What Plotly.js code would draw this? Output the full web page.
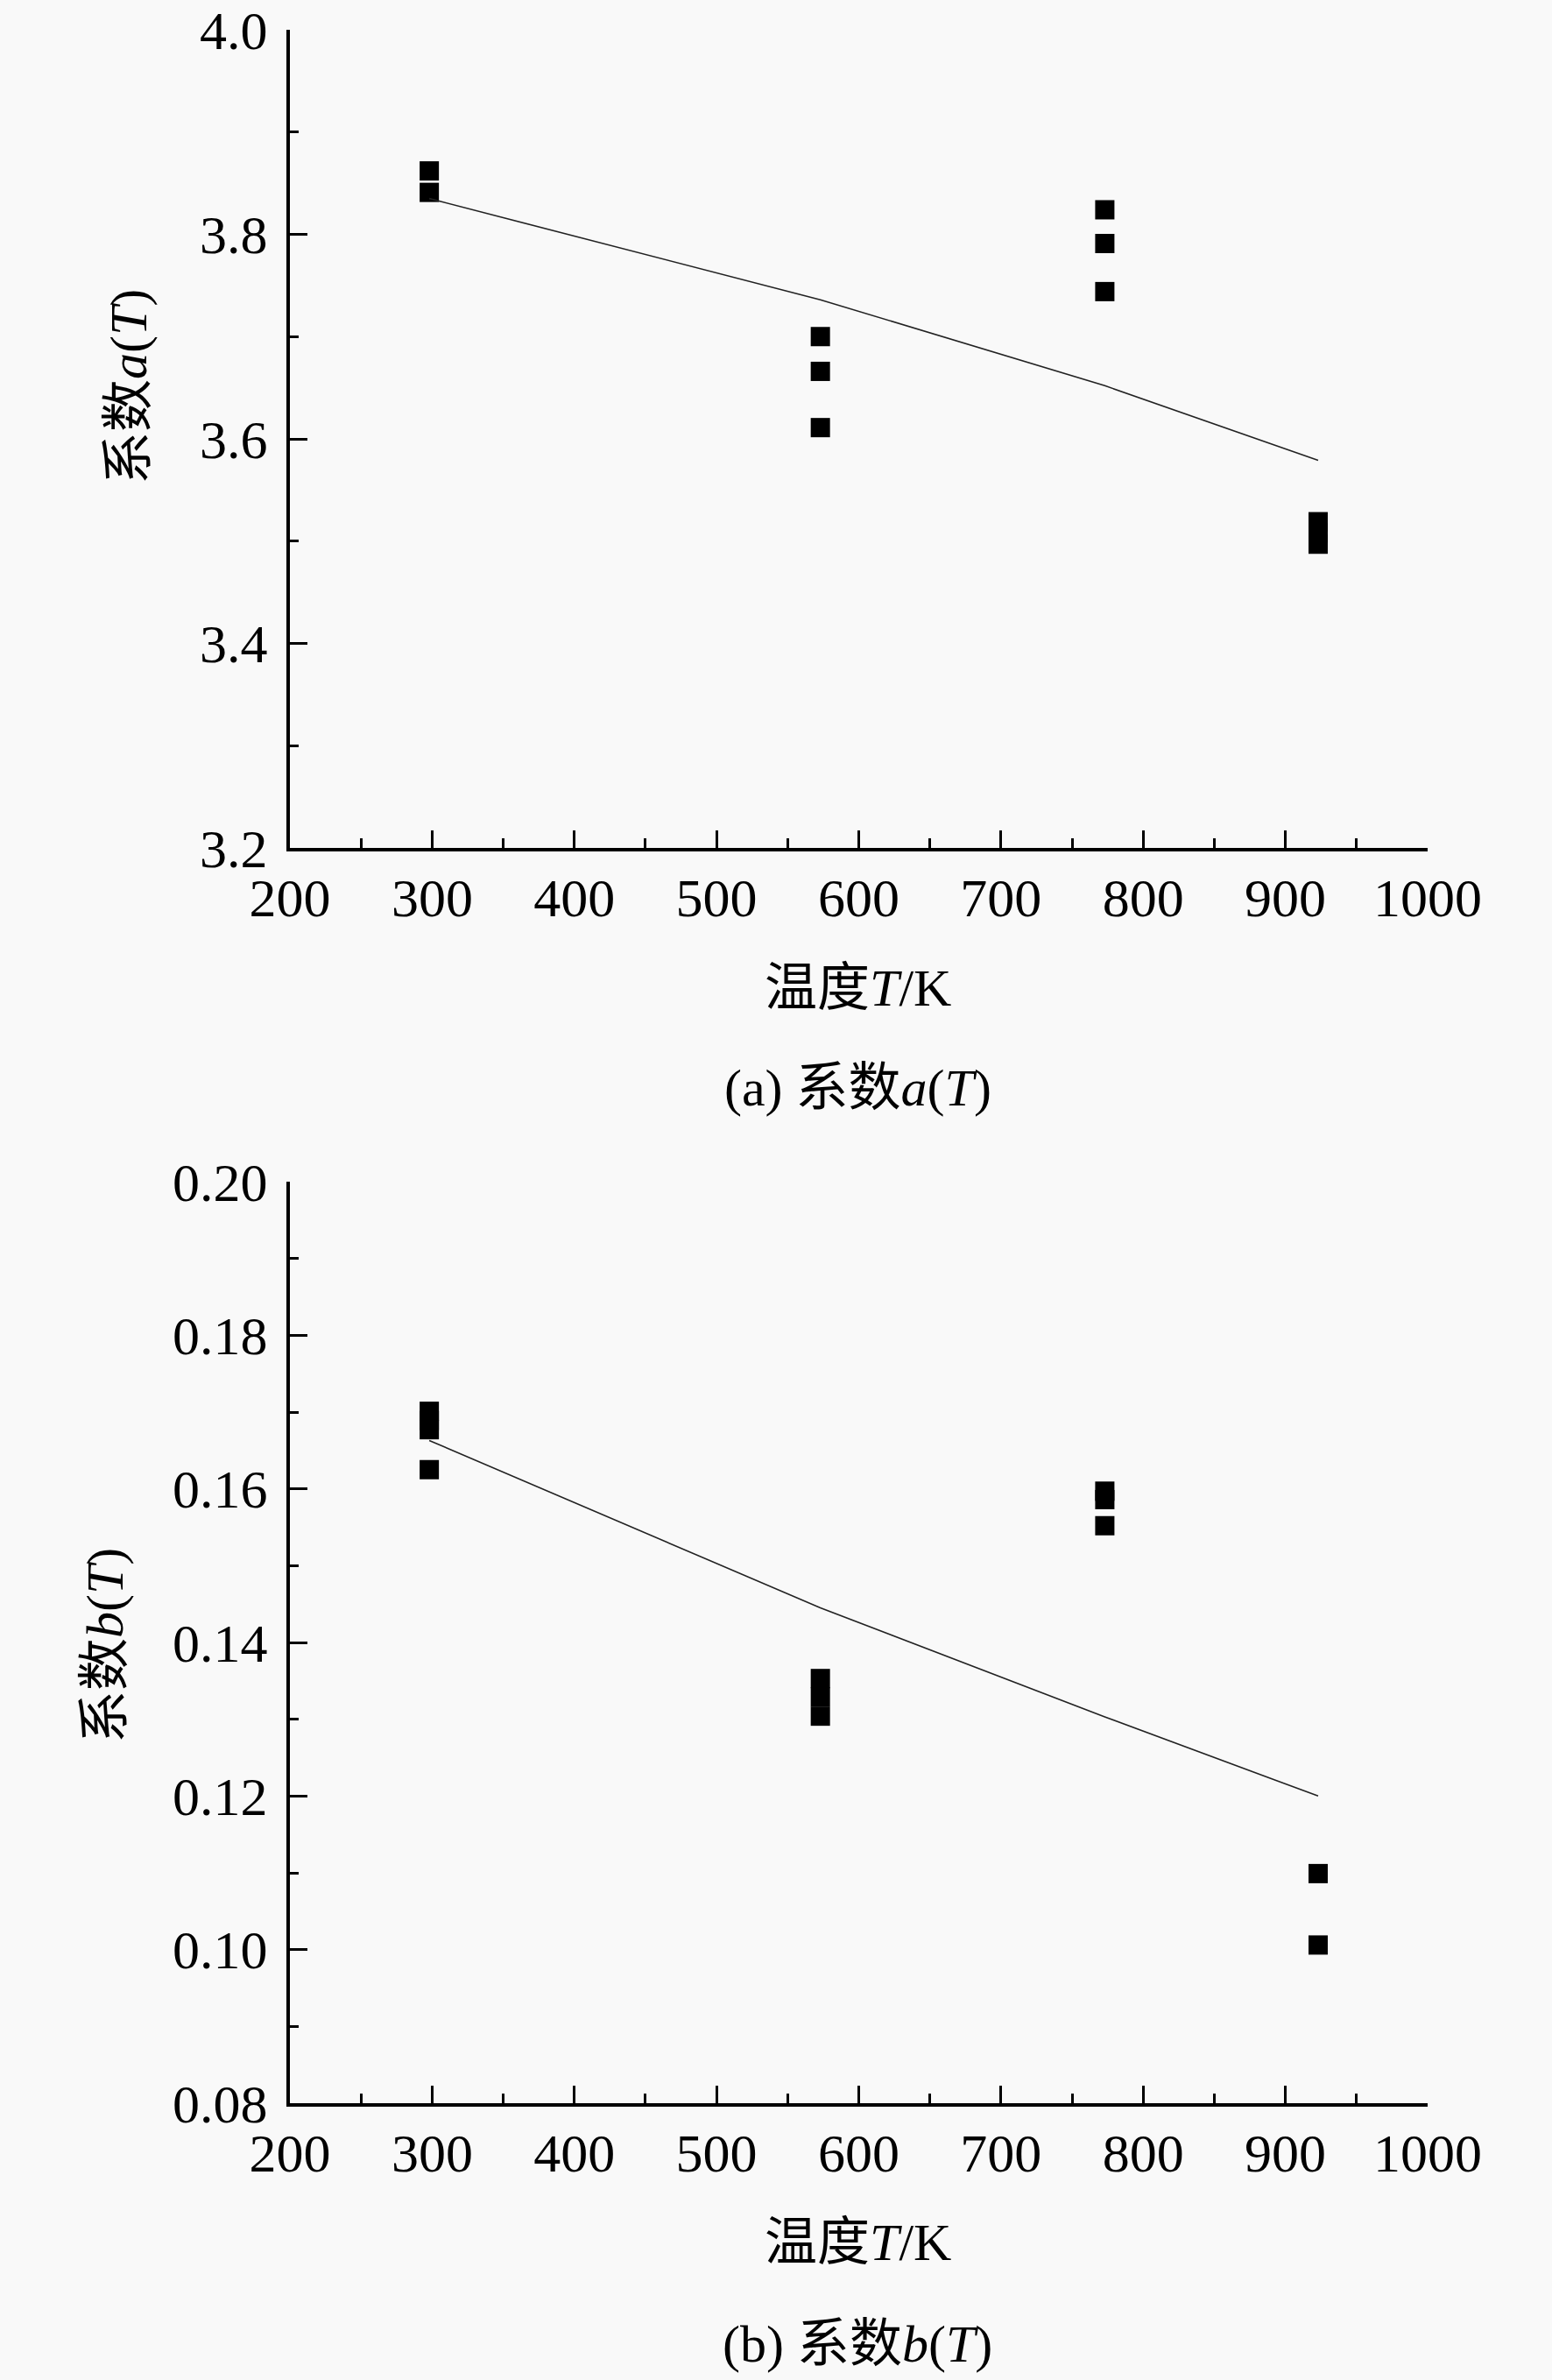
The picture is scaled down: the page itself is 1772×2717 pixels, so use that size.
<!DOCTYPE html>
<html>
<head>
<meta charset="utf-8">
<script src="https://cdn.plot.ly/plotly-3.0.1.min.js"></script>
<style>
  html, body { margin: 0; padding: 0; background: #f9f9f9; }
  #chart { width: 1772px; height: 2717px; }
</style>
</head>
<body>
<div id="chart"></div>
<script>
// measured points, temperature in K
const tempA = [298, 298, 573, 573, 573, 773, 773, 773, 923, 923, 923];
const coefA = [3.862, 3.841, 3.700, 3.666, 3.611, 3.824, 3.791, 3.744, 3.519, 3.508, 3.497];
const tempB = [298, 298, 298, 298, 573, 573, 573, 773, 773, 773, 923, 923];
const coefB = [0.1701, 0.1689, 0.1677, 0.1625, 0.1353, 0.1329, 0.1304, 0.1597, 0.1586, 0.1552, 0.1099, 0.1006];

// fitted curves
const fitTemp = [298, 573, 773, 923];
const fitA = [3.835, 3.736, 3.652, 3.579];
const fitB = [0.1663, 0.1445, 0.1303, 0.1200];

const xTicks = [200, 300, 400, 500, 600, 700, 800, 900, 1000];
const aTicks = [3.2, 3.4, 3.6, 3.8, 4.0];
const bTicks = [0.08, 0.10, 0.12, 0.14, 0.16, 0.18, 0.20];

const FONT = "Liberation Serif, 'Times New Roman', 'Noto Sans CJK SC', serif";
const W = 1772, H = 2717;

const markerStyle = { symbol: "square", size: 22, color: "#000" };
const lineStyle = { color: "#222", width: 1.6 };

var data = [
    { x: tempA, y: coefA, mode: "markers", marker: markerStyle, xaxis: "x", yaxis: "y" },
    { x: fitTemp, y: fitA, mode: "lines", line: lineStyle, xaxis: "x", yaxis: "y" },
    { x: tempB, y: coefB, mode: "markers", marker: markerStyle, xaxis: "x2", yaxis: "y2" },
    { x: fitTemp, y: fitB, mode: "lines", line: lineStyle, xaxis: "x2", yaxis: "y2" }
];

function xAxis(anchor) {
    return {
        anchor: anchor,
        domain: [331 / W, 1630 / W],
        range: [200, 1000],
        tickvals: xTicks,
        ticktext: xTicks.map(String),
        ticks: "inside", ticklen: 20, tickwidth: 3, tickcolor: "#000",
        minor: { dtick: 50, tick0: 200, ticks: "inside", ticklen: 11, tickwidth: 3, tickcolor: "#000" },
        showline: true, linewidth: 4, linecolor: "#000",
        showgrid: false, zeroline: false,
        ticklabelstandoff: 0,
        ticklabeloverflow: "allow",
        tickfont: { family: FONT, size: 62, color: "#000" }
    };
}

function yAxis(anchor, top, bottom, range, vals, fmt, minorStep) {
    return {
        anchor: anchor,
        domain: [1 - bottom / H, 1 - top / H],
        range: range,
        tickvals: vals,
        ticktext: vals.map(v => v.toFixed(fmt)),
        ticks: "inside", ticklen: 20, tickwidth: 3, tickcolor: "#000",
        minor: { dtick: minorStep, tick0: range[0], ticks: "inside", ticklen: 10, tickwidth: 3, tickcolor: "#000" },
        showline: true, linewidth: 4, linecolor: "#000",
        showgrid: false, zeroline: false,
        ticklabelstandoff: 9,
        ticklabeloverflow: "allow",
        tickfont: { family: FONT, size: 62, color: "#000" }
    };
}

function label(text, x, y, angle) {
    return {
        text: text, xref: "paper", yref: "paper",
        x: x / W, y: 1 - y / H, xanchor: "center", yanchor: "middle",
        textangle: angle || 0, showarrow: false,
        font: { family: FONT, size: 60, color: "#000" }
    };
}

var layout = {
    width: W, height: H,
    margin: { t: 0, r: 0, b: 0, l: 0 },
    paper_bgcolor: "#f9f9f9",
    plot_bgcolor: "#f9f9f9",
    showlegend: false,
    xaxis: xAxis("y"),
    yaxis: yAxis("x", 34, 968, [3.2, 4.0], aTicks, 1, 0.1),
    xaxis2: xAxis("y2"),
    yaxis2: yAxis("x2", 1349, 2401, [0.08, 0.20], bTicks, 2, 0.01),
    annotations: [
        label("系数<i>a</i>(<i>T</i>)", 147, 442, -90),
        label("温度<i>T</i>/K", 979, 1128),
        label("(a) 系数<i>a</i>(<i>T</i>)", 979, 1242),
        label("系数<i>b</i>(<i>T</i>)", 120, 1879, -90),
        label("温度<i>T</i>/K", 979, 2560),
        label("(b) 系数<i>b</i>(<i>T</i>)", 979, 2676)
    ]
};

Plotly.newPlot("chart", data, layout, { displayModeBar: false, staticPlot: true });
</script>
</body>
</html>
